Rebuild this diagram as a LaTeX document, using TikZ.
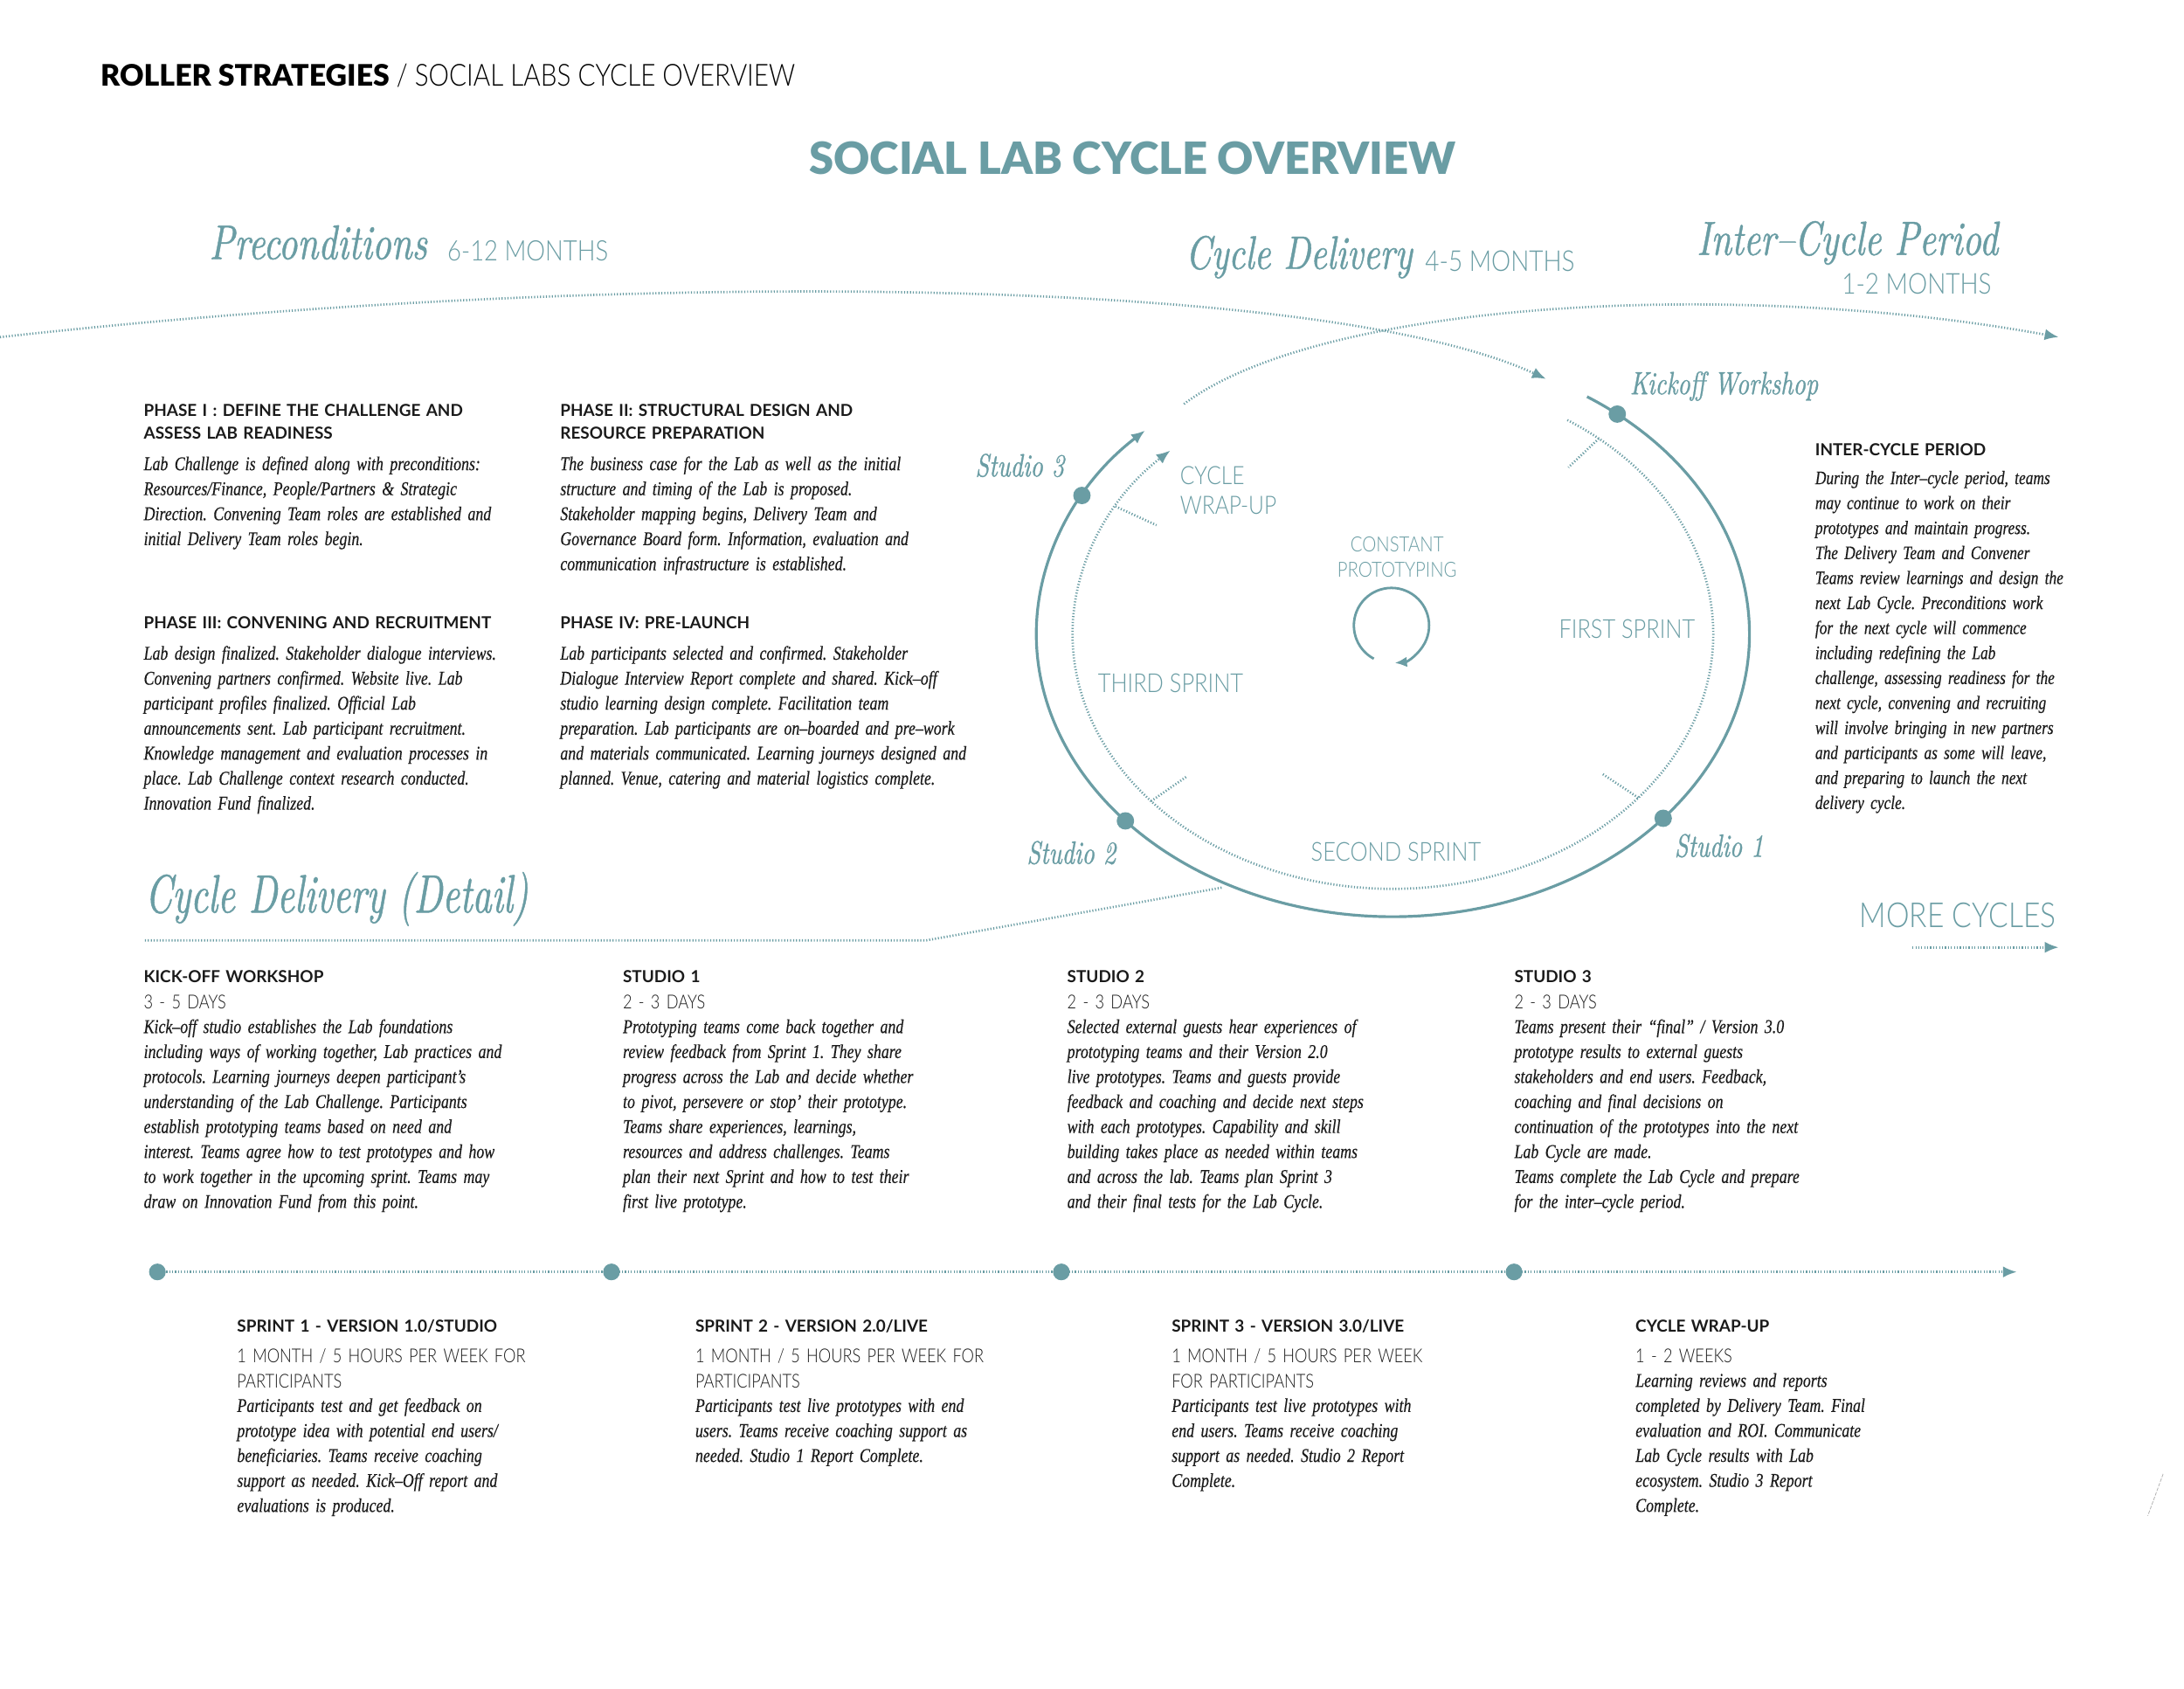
\documentclass[tikz,border=0pt]{standalone}
\usepackage{fontspec}
\usetikzlibrary{arrows.meta,calc}
\setmainfont{Liberation Serif}
\frenchspacing
\newfontfamily\bodyfont{Liberation Serif}[FakeStretch=0.80,FakeBold=0.3]
\newfontfamily\headsans{Lato}
\newfontfamily\blacksans{Lato Black}
\newfontfamily\lightsans{Lato Light}[FakeStretch=0.85]
\newfontfamily\subsans{Lato Light}[FakeStretch=0.83]
\newfontfamily\scripthead{lmroman10-italic.otf}[FakeStretch=0.76,FakeBold=0.8]
\newfontfamily\scriptwide{lmroman10-italic.otf}[FakeStretch=0.70,FakeBold=0.8]
\definecolor{labteal}{HTML}{6A9DA4}
\definecolor{ink}{HTML}{1A1A1A}
\tikzset{
  hd/.style={anchor=base west, inner sep=0pt, text width=330pt, align=left, text=ink, font=\headsans\bfseries\fontsize{9.5}{12.8}\selectfont},
  bd/.style={anchor=base west, inner sep=0pt, text width=330pt, align=left, text=ink, font=\bodyfont\itshape\fontsize{11.2}{14.35}\selectfont},
  subtx/.style={anchor=base west, inner sep=0pt, text width=330pt, align=left, text=ink, font=\subsans\fontsize{11}{14.4}\selectfont},
  scr/.style={anchor=base west, inner sep=0pt, text=labteal, font=\scripthead\fontsize{28}{30}\selectfont},
  lbl/.style={anchor=base west, inner sep=0pt, text=labteal, font=\scripthead\fontsize{18.5}{20}\selectfont},
  lite/.style={anchor=base west, inner sep=0pt, text=labteal, font=\lightsans\fontsize{15}{16.8}\selectfont},
  solidarc/.style={draw=labteal, line width=1.6pt},
  dotarc/.style={draw=labteal, line width=1.35pt, dash pattern=on 0.6pt off 1.1pt},
  bead/.style={circle, fill=labteal, inner sep=0pt, minimum size=10pt},
  arrowend/.style={-{Latex[length=8pt,width=6.5pt]}},
}
\begin{document}
\begin{tikzpicture}[x=0.8pt,y=0.8pt]
\useasboundingbox[fill=white] (0,0) rectangle (1568,-1212);

% ---------- header ----------
\node[anchor=base west, inner sep=0pt, text=black, font=\blacksans\fontsize{17}{20}\selectfont] (hdr) at (72,-62)
  {ROLLER STRATEGIES{\lightsans\fontsize{17.5}{20}\selectfont\ / SOCIAL LABS CYCLE OVERVIEW}};
\node[anchor=base, inner sep=0pt, text=labteal, font=\blacksans\fontsize{25.5}{30}\selectfont] (title) at (813,-125) {SOCIAL LAB CYCLE OVERVIEW};

% ---------- period headings ----------
\node[scr] (pre) at (150,-186) {Preconditions};
\node[lite, font=\lightsans\fontsize{16.2}{18}\selectfont] (pretime) at (321,-187) {6-12 MONTHS};
\node[scr, font=\scripthead\fontsize{27}{30}\selectfont] (cyc) at (851,-193) {Cycle Delivery};
\node[lite, font=\lightsans\fontsize{16.5}{18}\selectfont] (cyctime) at (1023,-195) {4-5 MONTHS};
\node[scr, font=\scripthead\fontsize{27.6}{30}\selectfont] (inter) at (1218,-183) {Inter–Cycle Period};
\node[lite, anchor=base east, font=\lightsans\fontsize{16.5}{18}\selectfont] (intertime) at (1430,-211) {1-2 MONTHS};

% ---------- top dotted curves ----------
\coordinate (a0) at (0,-242);
\coordinate (a1) at (1110,-272);
\draw[dotarc, arrowend] (a0) .. controls (450,-192) and (950,-198) .. (a1);
\coordinate (b0) at (850,-290);
\coordinate (b1) at (1478,-242);
\draw[dotarc, arrowend] (b0) .. controls (950,-215) and (1250,-200) .. (b1);

% ---------- cycle ----------
\coordinate (c) at (1000,-455);
\draw[solidarc, arrowend] (c) ++(57:256 and 203) arc[start angle=57, end angle=-226, x radius=256, y radius=203];
\draw[dotarc, arrowend] (c) ++(57:230 and 183) arc[start angle=57, end angle=-226, x radius=230, y radius=183];
\foreach \a/\n in {50/t1, 150/t2, -139/t3, -40/t4} {
  \coordinate (\n o) at ($(c)+(\a:230 and 183)$);
  \coordinate (\n i) at ($(c)+(\a:196 and 156)$);
  \draw[dotarc] (\n o) -- (\n i);
}
\path (c) ++(51:256 and 203) node[bead] (kick) {};
\path (c) ++(-40.7:256 and 203) node[bead] (s1) {};
\path (c) ++(-138.6:256 and 203) node[bead] (s2) {};
\path (c) ++(150.7:256 and 203) node[bead] (s3) {};

\coordinate (pc) at (999,-449);
\draw[draw=labteal, line width=1.4pt, -{Latex[length=7pt,width=6pt]}] (pc) ++(-118:27) arc[start angle=-118, end angle=-445, radius=27];

\node[lbl] (ls3) at (700,-342) {Studio 3};
\node[lbl] (lkick) at (1170,-283) {Kickoff Workshop};
\node[lbl] (ls2) at (737,-620) {Studio 2};
\node[lbl] (ls1) at (1202,-615) {Studio 1};

\node[lite, align=left, font=\lightsans\fontsize{14.5}{16.8}\selectfont] (wrap) at (847,-369) {CYCLE\\WRAP-UP};
\node[anchor=base, inner sep=0pt, align=center, text=labteal, font=\lightsans\fontsize{12}{14.4}\selectfont] (const) at (1003,-414) {CONSTANT\\PROTOTYPING};
\node[lite] (first) at (1119,-458) {FIRST SPRINT};
\node[lite] (third) at (788,-497) {THIRD SPRINT};
\node[lite] (second) at (941,-618) {SECOND SPRINT};

% ---------- preconditions phases ----------
\node[hd] (p1h) at (103,-299) {PHASE I : DEFINE THE CHALLENGE AND\\ASSESS LAB READINESS};
\node[bd] (p1b) at (103,-337.5) {Lab Challenge is defined along with preconditions:\\Resources/Finance, People/Partners \& Strategic\\Direction. Convening Team roles are established and\\initial Delivery Team roles begin.};
\node[hd] (p2h) at (402,-299) {PHASE II: STRUCTURAL DESIGN AND\\RESOURCE PREPARATION};
\node[bd] (p2b) at (402,-337.5) {The business case for the Lab as well as the initial\\structure and timing of the Lab is proposed.\\Stakeholder mapping begins, Delivery Team and\\Governance Board form. Information, evaluation and\\communication infrastructure is established.};
\node[hd] (p3h) at (103,-451) {PHASE III: CONVENING AND RECRUITMENT};
\node[bd] (p3b) at (103,-473.5) {Lab design finalized. Stakeholder dialogue interviews.\\Convening partners confirmed. Website live. Lab\\participant profiles finalized. Official Lab\\announcements sent. Lab participant recruitment.\\Knowledge management and evaluation processes in\\place. Lab Challenge context research conducted.\\Innovation Fund finalized.};
\node[hd] (p4h) at (402,-451) {PHASE IV: PRE-LAUNCH};
\node[bd] (p4b) at (402,-473.5) {Lab participants selected and confirmed. Stakeholder\\Dialogue Interview Report complete and shared. Kick–off\\studio learning design complete. Facilitation team\\preparation. Lab participants are on–boarded and pre–work\\and materials communicated. Learning journeys designed and\\planned. Venue, catering and material logistics complete.};

% ---------- inter-cycle ----------
\node[hd] (ich) at (1303,-327) {INTER-CYCLE PERIOD};
\node[bd, font=\bodyfont\itshape\fontsize{10.9}{14.35}\selectfont] (icb) at (1303,-347.5) {During the Inter–cycle period, teams\\may continue to work on their\\prototypes and maintain progress.\\The Delivery Team and Convener\\Teams review learnings and design the\\next Lab Cycle. Preconditions work\\for the next cycle will commence\\including redefining the Lab\\challenge, assessing readiness for the\\next cycle, convening and recruiting\\will involve bringing in new partners\\and participants as some will leave,\\and preparing to launch the next\\delivery cycle.};

% ---------- cycle delivery detail ----------
\node[scr, font=\scriptwide\fontsize{31}{36}\selectfont] (detail) at (104,-655) {Cycle Delivery (Detail)};
\coordinate (d0) at (104,-675);
\coordinate (d1) at (665,-675);
\coordinate (d2) at (878,-637);
\draw[dotarc] (d0) -- (d1) -- (d2);

\node[lite, font=\lightsans\fontsize{19.8}{22}\selectfont] (more) at (1335,-666) {MORE CYCLES};
\coordinate (m0) at (1373,-680);
\coordinate (m1) at (1478,-680);
\draw[dotarc, arrowend] (m0) -- (m1);

\node[hd] (kh) at (103,-705) {KICK-OFF WORKSHOP};
\node[subtx] (ks) at (103,-724) {3 - 5 DAYS};
\node[bd] (kb) at (103,-741.5) {Kick–off studio establishes the Lab foundations\\including ways of working together, Lab practices and\\protocols. Learning journeys deepen participant’s\\understanding of the Lab Challenge. Participants\\establish prototyping teams based on need and\\interest. Teams agree how to test prototypes and how\\to work together in the upcoming sprint. Teams may\\draw on Innovation Fund from this point.};

\node[hd] (s1h) at (447,-705) {STUDIO 1};
\node[subtx] (s1s) at (447,-724) {2 - 3 DAYS};
\node[bd] (s1b) at (447,-741.5) {Prototyping teams come back together and\\review feedback from Sprint 1. They share\\progress across the Lab and decide whether\\to pivot, persevere or stop’ their prototype.\\Teams share experiences, learnings,\\resources and address challenges. Teams\\plan their next Sprint and how to test their\\first live prototype.};

\node[hd] (s2h) at (766,-705) {STUDIO 2};
\node[subtx] (s2s) at (766,-724) {2 - 3 DAYS};
\node[bd] (s2b) at (766,-741.5) {Selected external guests hear experiences of\\prototyping teams and their Version 2.0\\live prototypes. Teams and guests provide\\feedback and coaching and decide next steps\\with each prototypes. Capability and skill\\building takes place as needed within teams\\and across the lab. Teams plan Sprint 3\\and their final tests for the Lab Cycle.};

\node[hd] (s3h) at (1087,-705) {STUDIO 3};
\node[subtx] (s3s) at (1087,-724) {2 - 3 DAYS};
\node[bd] (s3b) at (1087,-741.5) {Teams present their “final” / Version 3.0\\prototype results to external guests\\stakeholders and end users. Feedback,\\coaching and final decisions on\\continuation of the prototypes into the next\\Lab Cycle are made.\\Teams complete the Lab Cycle and prepare\\for the inter–cycle period.};

% ---------- timeline ----------
\coordinate (tl0) at (113,-913);
\coordinate (tl1) at (1448,-913);
\draw[dotarc, arrowend] (tl0) -- (tl1);
\node[bead, minimum size=9.6pt] (k1) at (113,-913) {};
\node[bead, minimum size=9.6pt] (k2) at (439,-913) {};
\node[bead, minimum size=9.6pt] (k3) at (762,-913) {};
\node[bead, minimum size=9.6pt] (k4) at (1087,-913) {};

% ---------- sprints ----------
\node[hd] (sp1h) at (170,-956) {SPRINT 1 - VERSION 1.0/STUDIO};
\node[subtx] (sp1s) at (170,-978) {1 MONTH / 5 HOURS PER WEEK FOR\\PARTICIPANTS};
\node[bd] (sp1b) at (170,-1013.5) {Participants test and get feedback on\\prototype idea with potential end users/\\beneficiaries. Teams receive coaching\\support as needed. Kick–Off report and\\evaluations is produced.};

\node[hd] (sp2h) at (499,-956) {SPRINT 2 - VERSION 2.0/LIVE};
\node[subtx] (sp2s) at (499,-978) {1 MONTH / 5 HOURS PER WEEK FOR\\PARTICIPANTS};
\node[bd] (sp2b) at (499,-1013.5) {Participants test live prototypes with end\\users. Teams receive coaching support as\\needed. Studio 1 Report Complete.};

\node[hd] (sp3h) at (841,-956) {SPRINT 3 - VERSION 3.0/LIVE};
\node[subtx] (sp3s) at (841,-978) {1 MONTH / 5 HOURS PER WEEK\\FOR PARTICIPANTS};
\node[bd] (sp3b) at (841,-1013.5) {Participants test live prototypes with\\end users. Teams receive coaching\\support as needed. Studio 2 Report\\Complete.};

\node[hd] (wuh) at (1174,-956) {CYCLE WRAP-UP};
\node[subtx] (wus) at (1174,-978) {1 - 2 WEEKS};
\node[bd] (wub) at (1174,-995.5) {Learning reviews and reports\\completed by Delivery Team. Final\\evaluation and ROI. Communicate\\Lab Cycle results with Lab\\ecosystem. Studio 3 Report\\Complete.};

% stray mark at right edge
\coordinate (e0) at (1553,-1058);
\coordinate (e1) at (1542,-1088);
\draw[draw=gray!60, line width=0.4pt, dash pattern=on 2pt off 0.8pt] (e0) -- (e1);
\end{tikzpicture}
\end{document}
